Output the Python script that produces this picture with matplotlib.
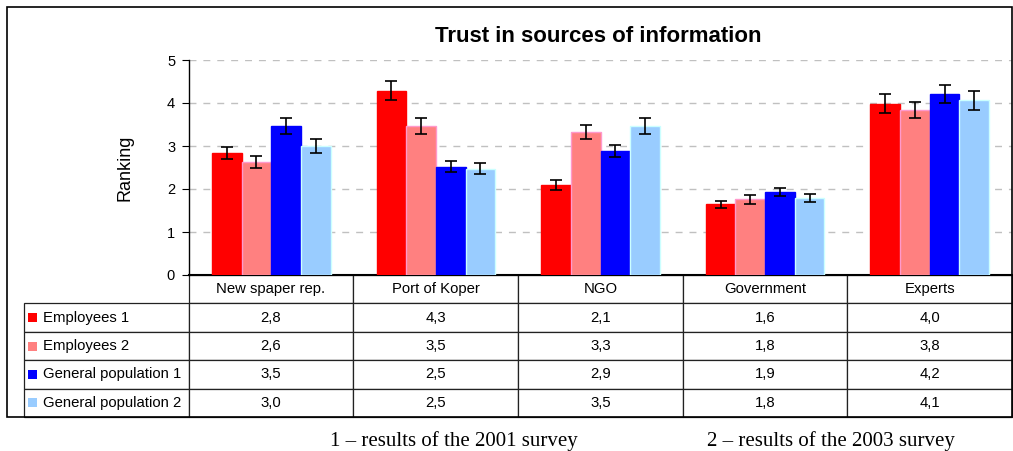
import numpy as np
import matplotlib.pyplot as plt
from matplotlib.patches import Rectangle

plt.rcParams['font.family'] = ['Liberation Sans', 'DejaVu Sans']

categories = ["New spaper rep.", "Port of Koper", "NGO", "Government", "Experts"]
series = ["Employees 1", "Employees 2", "General population 1", "General population 2"]

employees_1 = [2.84, 4.29, 2.09, 1.64, 3.98]
employees_2 = [2.62, 3.47, 3.33, 1.76, 3.84]
general_1 = [3.47, 2.52, 2.88, 1.93, 4.21]
general_2 = [3.00, 2.47, 3.46, 1.79, 4.06]

err_employees_1 = [0.14, 0.22, 0.11, 0.085, 0.22]
err_employees_2 = [0.14, 0.19, 0.17, 0.11, 0.19]
err_general_1 = [0.19, 0.13, 0.135, 0.10, 0.22]
err_general_2 = [0.155, 0.13, 0.19, 0.085, 0.22]

values = [employees_1, employees_2, general_1, general_2]
errors = [err_employees_1, err_employees_2, err_general_1, err_general_2]
colors = ["#FF0000", "#FF8080", "#0000FF", "#99CCFF"]
edges = ["#FF0000", "#FF99CC", "#0000FF", "#CCFFFF"]

W, H = 1013, 451
fig = plt.figure(figsize=(W / 100, H / 100), dpi=100)
ax = fig.add_axes([189 / W, (H - 275) / H, (1012 - 189) / W, (275 - 60) / H])

x = np.arange(len(categories))
w = 0.18
for i in range(4):
    ax.bar(x + (i - 1.5) * w, values[i], w, color=colors[i], edgecolor=edges[i],
           linewidth=1, yerr=errors[i], capsize=4,
           error_kw=dict(elinewidth=1.2, capthick=1.2, ecolor="black"), zorder=3)

ax.set_xlim(-0.5, len(categories) - 0.5)
ax.set_ylim(0, 5)
ax.set_yticks(range(6))
ax.set_xticks([])
ax.tick_params(axis="y", direction="out", length=5, labelsize=10.5, pad=5)
ax.yaxis.grid(True, linestyle=(0, (5, 5)), color="#c0c0c0", linewidth=1, zorder=0)
for s in ["top", "right"]:
    ax.spines[s].set_visible(False)
ax.spines["bottom"].set_linewidth(1.5)
ax.spines["left"].set_linewidth(1)
ax.set_ylabel("Ranking", fontsize=13, labelpad=24)

# data table under the bars, first column holds the series names
cell_text = [[name] + [f"{v:.1f}".replace(".", ",") for v in vals]
             for name, vals in zip(series, values)]
tab = ax.table(cellText=cell_text, colLabels=[""] + categories, cellLoc="center",
               bbox=[(24 - 189) / 823, -(417 - 275) / 215, (1012 - 24) / 823, (417 - 275) / 215])
tab.auto_set_font_size(False)
tab.set_fontsize(10.7)
for (r, c), cell in tab.get_celld().items():
    cell.set_linewidth(0.9)
    cell.set_edgecolor("#222222")
    if c == 0 and r > 0:
        cell.PAD = 0.115
        cell.get_text().set_ha("left")
        cell._loc = "left"
tab[0, 0].visible_edges = ""

fig.canvas.draw()
for r in range(1, len(series) + 1):
    cell = tab[r, 0]
    cy = cell.get_y() + cell.get_height() / 2
    ax.add_patch(Rectangle((cell.get_x() + 4 / 823, cy - 4.5 / 215), 9 / 823, 9 / 215,
                           facecolor=colors[r - 1], edgecolor="none",
                           transform=ax.transAxes, clip_on=False, zorder=5))

fig.text(598 / W, 1 - 36 / H, "Trust in sources of information", ha="center", va="center",
         fontsize=16, fontweight="bold")

fig.add_artist(Rectangle((7 / W, 1 - 417 / H), (1012 - 7) / W, (417 - 7) / H,
                         transform=fig.transFigure, fill=False, edgecolor="black", linewidth=1.2))

fig.text(330 / W, 1 - 441 / H, "1 \u2013 results of the 2001 survey", ha="left", va="center",
         fontsize=15, family="Liberation Serif")
fig.text(707 / W, 1 - 441 / H, "2 \u2013 results of the 2003 survey", ha="left", va="center",
         fontsize=15, family="Liberation Serif")

fig.savefig("out.png", dpi=100)
